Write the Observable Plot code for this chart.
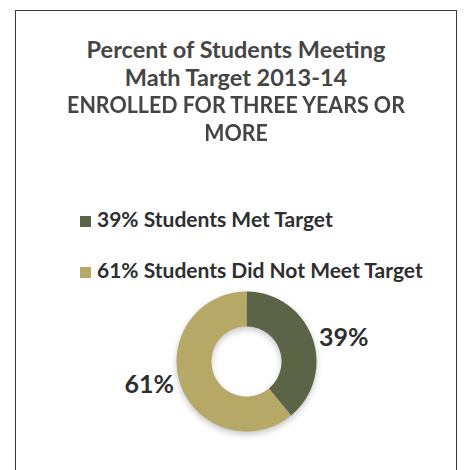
<!DOCTYPE html>
<html>
<head>
<meta charset="utf-8">
<script src="https://cdn.jsdelivr.net/npm/d3@7"></script>
<script src="https://cdn.jsdelivr.net/npm/@observablehq/plot@0.6"></script>
<style>
  html, body { margin: 0; padding: 0; background: #fff; width: 466px; height: 470px; overflow: hidden; }
  #frame { position: absolute; left: 15px; top: 10px; width: 440px; height: 480px; border: 1.5px solid #3a3a3a; }
  #title { position: absolute; left: 15px; width: 442px; top: 36px; text-align: center;
    font-family: Lato, "Open Sans", sans-serif; font-weight: 700; font-size: 23.5px; line-height: 27.5px; color: #454545; }
  #title .ln { display: block; white-space: nowrap; }
  #title .ln.caps { transform: scaleX(0.91); }
  .leg { position: absolute; left: 80px; font-family: Lato, sans-serif; font-weight: 700; font-size: 21px; color: #2e2e2e; white-space: nowrap; }
  .leg .sw { display: inline-block; width: 11px; height: 11px; margin-right: 6px; vertical-align: 0px; }
  #chart { position: absolute; left: 0; top: 271px; }
  #chart g[aria-label="line"] { filter: drop-shadow(0px 3px 3px rgba(0,0,0,0.22)); }
</style>
</head>
<body>
<div id="frame"></div>
<div id="title"></div>
<div id="legend"></div>
<div id="chart"></div>
<script>
const titleLines = ["Percent of Students Meeting", "Math Target 2013-14", "ENROLLED FOR THREE YEARS OR", "MORE"];
const categories = ["Students Met Target", "Students Did Not Meet Target"];
const values = [39, 61];
const colors = ["#5b6446", "#b6a968"];
const legendLabels = ["39% Students Met Target", "61% Students Did Not Meet Target"];
const sliceLabels = ["39%", "61%"];

document.getElementById("title").innerHTML = titleLines
  .map(t => `<span class="ln${t === t.toUpperCase() ? " caps" : ""}">${t}</span>`).join("");
const legendTops = [206, 257];
legendLabels.forEach((t, i) => {
  const d = document.createElement("div");
  d.className = "leg";
  d.style.top = legendTops[i] + "px";
  d.innerHTML = `<span class="sw" style="background:${colors[i]}"></span>${t}`;
  document.getElementById("legend").appendChild(d);
});

// donut geometry in unit data coordinates (outer radius 1, inner 0.5)
const inner = 0.5, outer = 1;
const pie = d3.pie().sort(null).value(d => d.value)(categories.map((c, i) => ({category: c, value: values[i]})));
const points = [];
pie.forEach(s => {
  const n = 120;
  const ring = [];
  for (let k = 0; k <= n; k++) { const a = s.startAngle + (s.endAngle - s.startAngle) * k / n; ring.push([outer * Math.sin(a), outer * Math.cos(a)]); }
  for (let k = n; k >= 0; k--) { const a = s.startAngle + (s.endAngle - s.startAngle) * k / n; ring.push([inner * Math.sin(a), inner * Math.cos(a)]); }
  ring.forEach(([x, y]) => points.push({category: s.data.category, x, y}));
});
const labels = pie.map((s, i) => {
  const a = (s.startAngle + s.endAngle) / 2;
  const sx = Math.sin(a), cy = Math.cos(a);
  return {label: sliceLabels[i], x: 1.1 * sx, y: 1.0 * cy, anchor: sx >= 0 ? "start" : "end"};
});

const R = 70, cx = 246, cy = 90;
const plot = Plot.plot({
  width: 466, height: 190, margin: 0,
  x: {domain: [-1, 1], range: [cx - R, cx + R], axis: null},
  y: {domain: [-1, 1], range: [cy + R, cy - R], axis: null},
  color: {domain: categories, range: colors},
  marks: [
    Plot.line(points, {x: "x", y: "y", z: "category", fill: "category", stroke: "none", curve: "linear"}),
    Plot.text(labels.filter(d => d.anchor === "start"), {x: "x", y: "y", text: "label", textAnchor: "start", fontSize: 25, fontWeight: 700, fontFamily: "Lato, sans-serif", fill: "#2e2e2e"}),
    Plot.text(labels.filter(d => d.anchor === "end"), {x: "x", y: "y", text: "label", textAnchor: "end", fontSize: 25, fontWeight: 700, fontFamily: "Lato, sans-serif", fill: "#2e2e2e"})
  ]
});
document.getElementById("chart").appendChild(plot);
</script>
</body>
</html>
